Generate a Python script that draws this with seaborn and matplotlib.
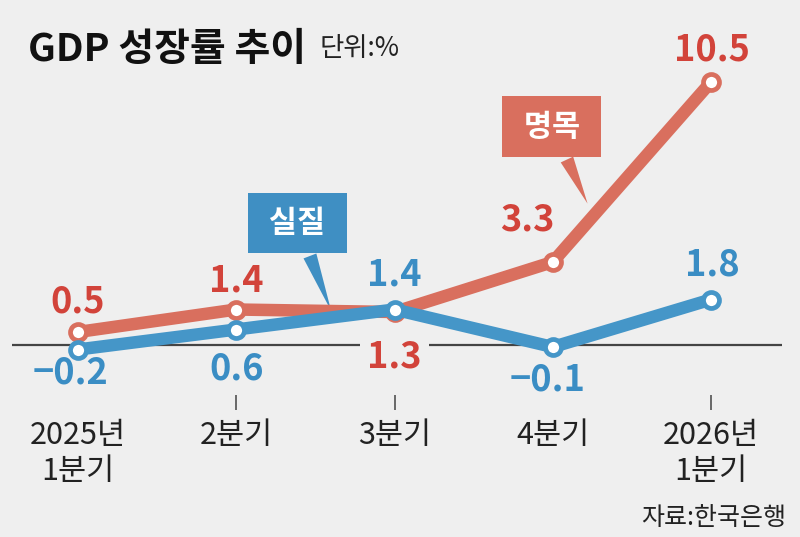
import numpy as np
import pandas as pd
import matplotlib
matplotlib.use('Agg')
import matplotlib.pyplot as plt
import seaborn as sns

# ====================== DATA ======================
quarters = ['2025년\n1분기', '2분기', '3분기', '4분기', '2026년\n1분기']
nominal = [0.5, 1.4, 1.3, 3.3, 10.5]    # 명목
real = [-0.2, 0.6, 1.4, -0.1, 1.8]      # 실질

# ====================== STYLE ======================
sns.set_style('white')
plt.rcParams['font.family'] = ['Noto Sans CJK KR', 'DejaVu Sans']
plt.rcParams['axes.unicode_minus'] = True

BG = '#efefef'
RED_LINE = '#d96f5e'
RED_TEXT = '#d2433a'
BLUE_LINE = '#4596c8'
BLUE_TEXT = '#3a8dc4'

PX = 72 / 100   # pixel -> point at dpi 100

x = np.arange(len(quarters))
df = pd.DataFrame({'x': x, 'nominal': nominal, 'real': real})

fig = plt.figure(figsize=(8, 5.37), dpi=100, facecolor=BG)
ax = fig.add_axes([0, 0, 1, 1])
ax.set_facecolor(BG)
ax.set_xlim(-0.4929, 4.5624)
ax.set_ylim(-7.7, 13.78)
ax.axis('off')

# zero line + category ticks
ax.hlines(0, -0.42, 4.45, color='#444444', lw=1.6, zorder=1)
ax.vlines([1, 2, 4], -2.02, -2.62, color='#444444', lw=1.1, zorder=1)

# ====================== LINES ======================
common = dict(linewidth=9, marker='o', markersize=11.5, markerfacecolor='white',
              markeredgewidth=3.4, solid_joinstyle='round', legend=False)
sns.lineplot(data=df, x='x', y='nominal', color=RED_LINE, markeredgecolor=RED_LINE,
             ax=ax, zorder=3, **common)
sns.lineplot(data=df, x='x', y='real', color=BLUE_LINE, markeredgecolor=BLUE_LINE,
             ax=ax, zorder=4, **common)
ax.set_xlabel('')
ax.set_ylabel('')


def fmt(v):
    return f'{v:.1f}'.replace('-', '−')


# value labels (offsets in px: dx, dy up)
red_off = [(0, 30), (0, 28), (0, -45), (-25, 42), (1, 32)]
blue_off = [(-8, -24), (0, -39), (0, 35), (-5, -33), (1, 35)]
for xi, v, (dx, dy) in zip(x, nominal, red_off):
    kw = {}
    if v == 1.3:
        kw['bbox'] = dict(boxstyle='square,pad=0.2', fc=BG, ec='none')
    ax.annotate(fmt(v), (xi, v), xytext=(dx * PX, dy * PX), textcoords='offset points',
                ha='center', va='center', fontsize=26, fontweight='bold',
                color=RED_TEXT, zorder=5, **kw)
for xi, v, (dx, dy) in zip(x, real, blue_off):
    ax.annotate(fmt(v), (xi, v), xytext=(dx * PX, dy * PX), textcoords='offset points',
                ha='center', va='center', fontsize=26, fontweight='bold',
                color=BLUE_TEXT, zorder=5)

# category labels
for xi, q in zip(x, quarters):
    ax.text(xi, -3.0, q, ha='center', va='top', fontsize=22, color='#222222',
            linespacing=1.25)

# ====================== CALLOUTS ======================
# 명목: pointer near the 4분기 -> 2026 segment
tip_x = 3.22
tip_y = np.interp(tip_x, x, nominal) + 0.75
ax.annotate(' 명목 ', (tip_x, tip_y), xytext=(-36 * PX, 77 * PX), textcoords='offset points',
            ha='center', va='center', fontsize=22, fontweight='bold', color='white',
            bbox=dict(boxstyle='square,pad=0.47', fc=RED_LINE, ec='none'),
            arrowprops=dict(arrowstyle='wedge,tail_width=0.45,shrink_factor=0.5',
                            fc=RED_LINE, ec='none', shrinkB=0),
            zorder=6)

# 실질: pointer touching the red line between 2분기 and 3분기
tip_x = 1.6
tip_y = np.interp(tip_x, x, nominal)
ax.annotate(' 실질 ', (tip_x, tip_y), xytext=(-34 * PX, 88 * PX), textcoords='offset points',
            ha='center', va='center', fontsize=22, fontweight='bold', color='white',
            bbox=dict(boxstyle='square,pad=0.47', fc='#3f8fc3', ec='none'),
            arrowprops=dict(arrowstyle='wedge,tail_width=0.45,shrink_factor=0.5',
                            fc='#3f8fc3', ec='none', shrinkB=0),
            zorder=2)

# ====================== TEXTS ======================
fig.text(28 / 800, 1 - 50 / 537, 'GDP 성장률 추이', ha='left', va='center',
         fontsize=28, fontweight='bold', color='#111111')
fig.text(320 / 800, 1 - 49 / 537, '단위:%', ha='left', va='center',
         fontsize=19, color='#222222')
fig.text(786 / 800, 1 - 518 / 537, '자료:한국은행', ha='right', va='center',
         fontsize=18, color='#222222')

fig.savefig('out.png', dpi=100, facecolor=BG)
